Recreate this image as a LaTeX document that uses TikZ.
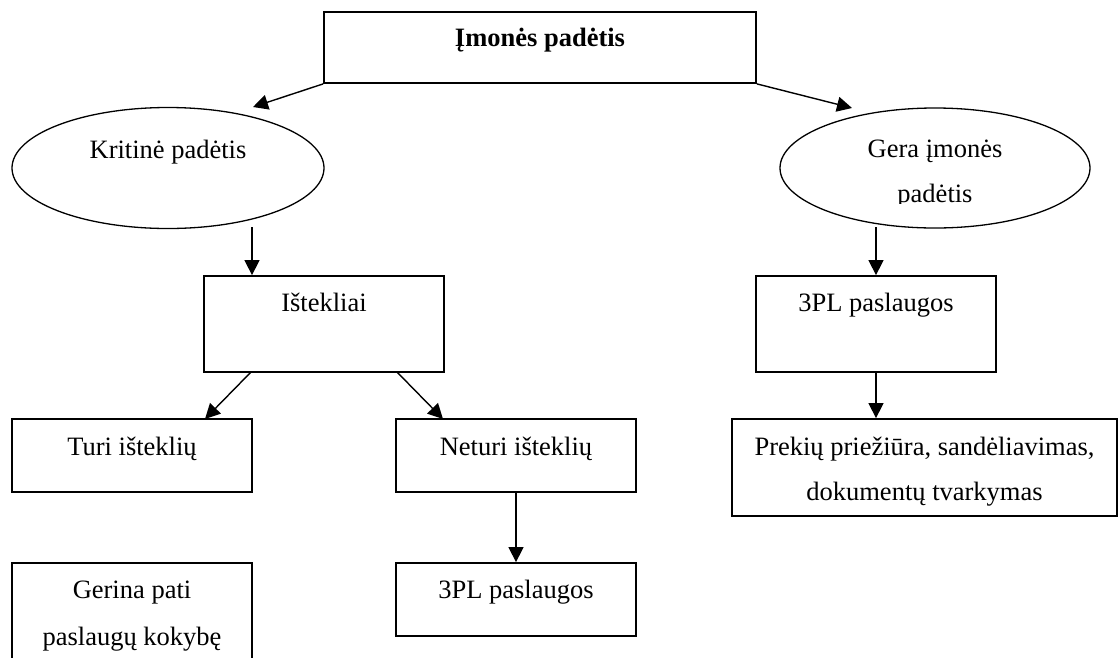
\documentclass[tikz,border=0pt]{standalone}
\usepackage{fontspec}
\setmainfont{Liberation Serif}
\usetikzlibrary{arrows.meta,shapes.geometric}
\begin{document}
\begin{tikzpicture}[x=1pt,y=-1pt,
  box/.style={draw,line width=1.8pt,rectangle,inner sep=0pt},
  oval/.style={draw,line width=1.3pt,ellipse,inner sep=0pt},
  lbl/.style={inner sep=0pt,anchor=base,font=\fontsize{26.5}{30}\selectfont},
  arr/.style={line width=1.4pt,-{Triangle[length=15pt,width=15pt]}}]
\useasboundingbox (0,0) rectangle (1120,657);
\clip (0,0) rectangle (1120,657);
% boxes
\node[box,minimum width=432pt,minimum height=71pt] (title) at (540,47.5) {};
\node[oval,minimum width=312pt,minimum height=121pt] (krit) at (168,168) {};
\node[oval,minimum width=310pt,minimum height=120pt] (gera) at (935,168) {};
\node[box,minimum width=240pt,minimum height=96pt] (istek) at (324,324) {};
\node[box,minimum width=240pt,minimum height=73pt] (turi) at (132,455.5) {};
\node[box,minimum width=240pt,minimum height=73pt] (neturi) at (516,455.5) {};
\node[box,minimum width=240pt,minimum height=73pt] (pla) at (516,599.5) {};
\node[box,minimum width=240pt,minimum height=130pt] (gerina) at (132,628) {};
\node[box,minimum width=240pt,minimum height=96pt] (plb) at (876,324) {};
\node[box,minimum width=385pt,minimum height=97pt] (prek) at (924.5,467.5) {};
% texts
\node[lbl,font=\fontsize{26.5}{30}\selectfont\bfseries] (ttitle) at (540,46) {Įmonės padėtis};
\node[lbl] (tkrit) at (168,158) {Kritinė padėtis};
\node[lbl] (tgera1) at (935,157) {Gera įmonės};
\begin{scope}
\clip (760,160) rectangle (1110,203.5);
\node[lbl] (tgera2) at (935,202) {padėtis};
\end{scope}
\node[lbl] (tistek) at (324,311) {Ištekliai};
\node[lbl] (tturi) at (132,455) {Turi išteklių};
\node[lbl] (tneturi) at (516,455) {Neturi išteklių};
\node[lbl] (tpla) at (516,598) {3PL paslaugos};
\node[lbl] (tgerina1) at (132,598) {Gerina pati};
\node[lbl] (tgerina2) at (132,645) {paslaugų kokybę};
\node[lbl] (tplb) at (876,311) {3PL paslaugos};
\node[lbl] (tprek1) at (924.5,455) {Prekių priežiūra, sandėliavimas,};
\node[lbl] (tprek2) at (924.5,500) {dokumentų tvarkymas};
% connector end points
\coordinate (e1) at (253,107);
\coordinate (e2) at (852,108);
\coordinate (s3) at (252,227);
\coordinate (s4) at (251,372);
\coordinate (e4) at (205,419);
\coordinate (s5) at (397,372);
\coordinate (e5) at (443,419);
\coordinate (s7) at (876,227);
% connectors
\draw[arr] (title.south west) -- (e1);
\draw[arr] (title.south east) -- (e2);
\draw[arr] (s3) -- (s3 |- istek.north);
\draw[arr] (s4) -- (e4);
\draw[arr] (s5) -- (e5);
\draw[arr] (neturi.south) -- (pla.north);
\draw[arr] (s7) -- (s7 |- plb.north);
\draw[arr] (plb.south) -- (plb.south |- prek.north);
\end{tikzpicture}
\end{document}
